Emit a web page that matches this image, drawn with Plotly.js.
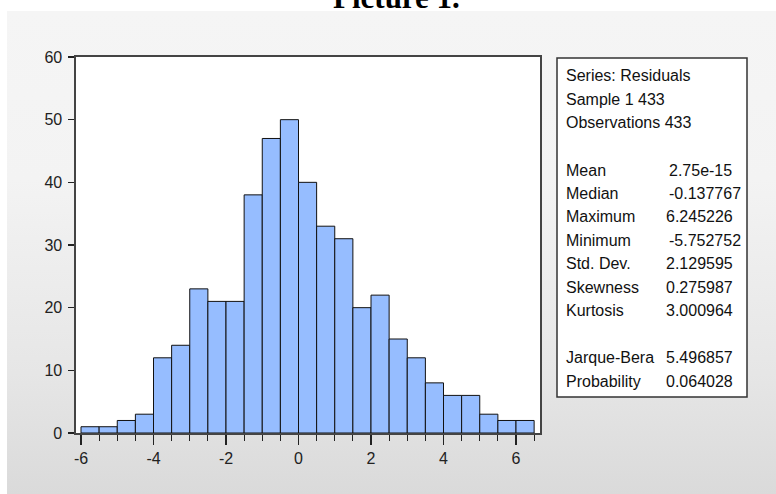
<!DOCTYPE html>
<html>
<head>
<meta charset="utf-8">
<script src="https://cdn.plot.ly/plotly-3.0.1.min.js"></script>
<style>
  html, body { margin: 0; padding: 0; background: #ffffff; }
  #wrap { position: relative; width: 776px; height: 494px; overflow: hidden; }
  #bg { position: absolute; left: 7px; top: 11px; right: 0; bottom: 0;
        background: linear-gradient(#f5f5f5 0%, #f3f3f3 35%, #e6e6e6 75%, #dadada 100%); }
  #chart { position: absolute; left: 0; top: 0; width: 776px; height: 494px; }
</style>
</head>
<body>
<div id="wrap">
  <div id="bg"></div>
  <div id="chart"></div>
</div>
<script>
// Histogram of residuals: bin centres (bin width 0.5) and counts
const binCenters = [-5.75, -5.25, -4.75, -4.25, -3.75, -3.25, -2.75, -2.25, -1.75, -1.25,
                    -0.75, -0.25, 0.25, 0.75, 1.25, 1.75, 2.25, 2.75, 3.25, 3.75,
                    4.25, 4.75, 5.25, 5.75, 6.25];
const counts = [1, 1, 2, 3, 12, 14, 23, 21, 21, 38,
                47, 50, 40, 33, 31, 20, 22, 15, 12, 8,
                6, 6, 3, 2, 2];
const binWidth = 0.5;

const xTickVals = [-6, -4, -2, 0, 2, 4, 6];
const xTickLabels = ['-6', '-4', '-2', '0', '2', '4', '6'];
const yTickVals = [0, 10, 20, 30, 40, 50, 60];
const yTickLabels = ['0', '10', '20', '30', '40', '50', '60'];

const chartTitle = 'Picture 1.';
const headerLines = ['Series: Residuals', 'Sample 1 433', 'Observations 433'];
const statNames = ['Mean', 'Median', 'Maximum', 'Minimum', 'Std. Dev.', 'Skewness', 'Kurtosis'];
const statValues = ['2.75e-15', '-0.137767', '6.245226', '-5.752752', '2.129595', '0.275987', '3.000964'];
const testNames = ['Jarque-Bera', 'Probability'];
const testValues = ['5.496857', '0.064028'];

// plot area in pixels
const L = 76, R = 540, T = 57, B = 433;
const W = 776, H = 494;
const px = x => (x - L) / (R - L);
const py = y => (B - y) / (B - T);

const SANS = 'Liberation Sans, Arial, sans-serif';
const txtFont = { family: SANS, size: 16, color: '#111' };

const annotations = [];
function addText(text, x, y) {
  annotations.push({ text: text, xref: 'paper', yref: 'paper', x: px(x), y: py(y),
    xanchor: 'left', yanchor: 'middle', showarrow: false, font: txtFont });
}
const lineY = [76, 99.5, 123];
headerLines.forEach((t, i) => addText(t, 564, lineY[i]));
const statY = [170, 193.5, 217, 240, 263.5, 287, 310];
statNames.forEach((t, i) => addText(t, 564, statY[i]));
statValues.forEach((t, i) => addText(t, (t.startsWith('-') || t.indexOf('e') > 0) ? 667 : 664, statY[i]));
const testY = [357.5, 381];
testNames.forEach((t, i) => addText(t, 564, testY[i]));
testValues.forEach((t, i) => addText(t, 664, testY[i]));

annotations.push({ text: '<b>' + chartTitle + '</b>', xref: 'paper', yref: 'paper',
  x: px(396.5), y: py(-3), xanchor: 'center', yanchor: 'middle', showarrow: false,
  font: { family: 'Liberation Serif, Times New Roman, serif', size: 31, color: '#000' } });

const trace = {
  type: 'bar',
  x: binCenters,
  y: counts,
  width: binWidth,
  marker: { color: '#96bdff', line: { color: '#111', width: 1 } },
  hoverinfo: 'x+y'
};

const layout = {
  width: W, height: H,
  margin: { l: L, r: W - R, t: T, b: H - B, pad: 0 },
  paper_bgcolor: 'rgba(0,0,0,0)',
  plot_bgcolor: '#ffffff',
  showlegend: false,
  bargap: 0,
  xaxis: {
    range: [-6.138, 6.662],
    tickmode: 'array', tickvals: xTickVals, ticktext: xTickLabels,
    ticks: 'outside', ticklen: 10, tickwidth: 1.2, tickcolor: '#222',
    minor: { tickmode: 'linear', tick0: -6, dtick: 0.5, ticks: 'outside', ticklen: 6, tickwidth: 1.2, tickcolor: '#222', showgrid: false },
    showgrid: false, zeroline: false,
    showline: true, mirror: true, linecolor: '#444', linewidth: 1.6,
    tickfont: { family: SANS, size: 16, color: '#222' },
    ticklabelstandoff: 0,
    fixedrange: true
  },
  yaxis: {
    range: [0, 60],
    tickmode: 'array', tickvals: yTickVals, ticktext: yTickLabels,
    ticks: 'outside', ticklen: 6, tickwidth: 1.2, tickcolor: '#222',
    showgrid: false, zeroline: false,
    showline: true, mirror: true, linecolor: '#444', linewidth: 1.6,
    tickfont: { family: SANS, size: 16, color: '#222' },
    ticklabelstandoff: 3,
    fixedrange: true
  },
  shapes: [{
    type: 'rect', xref: 'paper', yref: 'paper',
    x0: px(557), x1: px(747), y0: py(397), y1: py(58),
    fillcolor: '#ffffff', line: { color: '#333', width: 1.5 }, layer: 'below'
  }],
  annotations: annotations
};

Plotly.newPlot('chart', [trace], layout, { displayModeBar: false, staticPlot: true });
</script>
</body>
</html>
